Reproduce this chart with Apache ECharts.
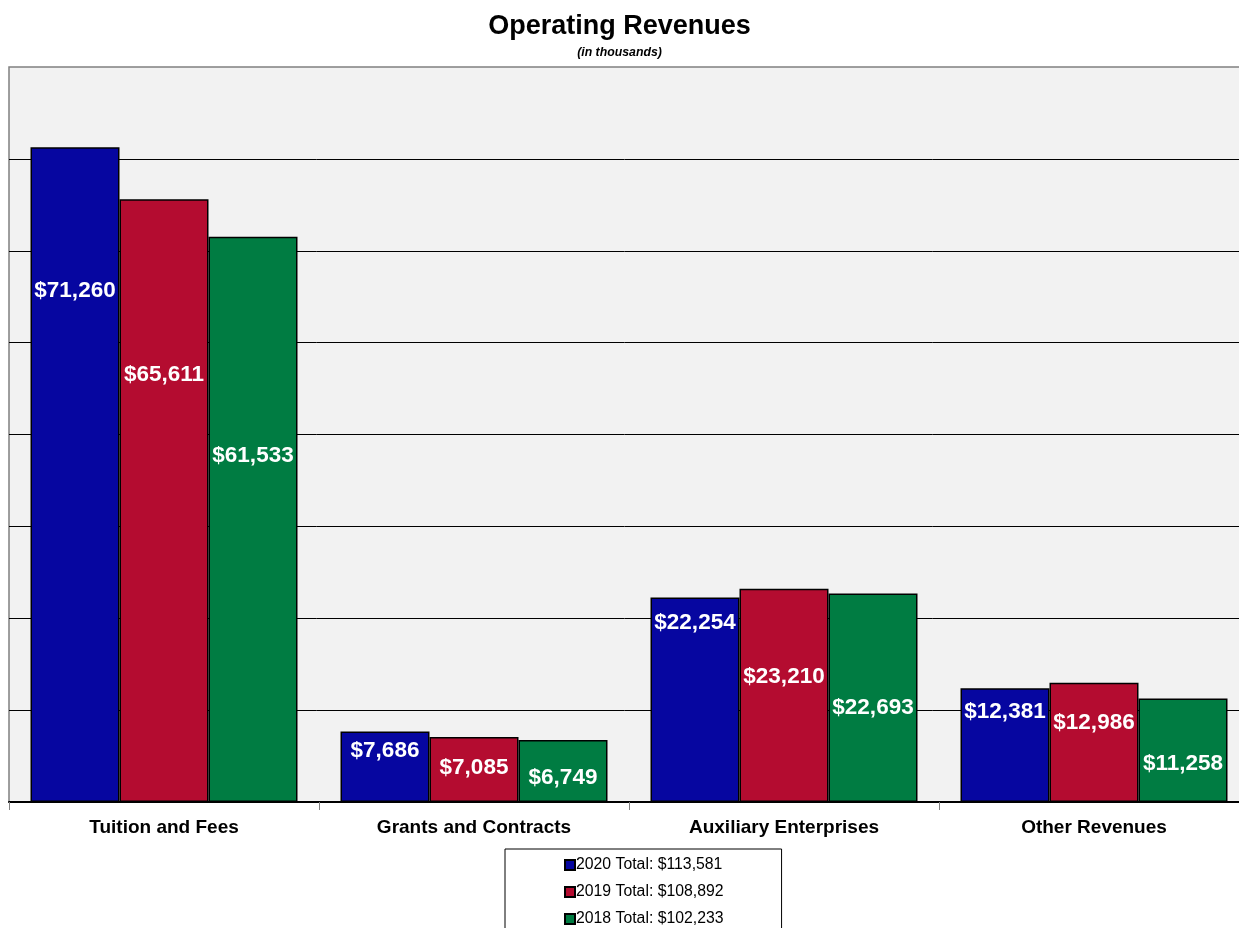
<!DOCTYPE html>
<html>
<head>
<meta charset="utf-8">
<style>
  html, body { margin: 0; padding: 0; background: #ffffff; }
  #chart { width: 1239px; height: 928px; }
</style>
<script src="https://cdn.jsdelivr.net/npm/echarts@6/dist/echarts.min.js"></script>
</head>
<body>
<div id="chart"></div>
<script>
// ---- data ----
const categories = ['Tuition and Fees', 'Grants and Contracts', 'Auxiliary Enterprises', 'Other Revenues'];
const years = ['2020', '2019', '2018'];
const values2020 = [71260, 7686, 22254, 12381];
const values2019 = [65611, 7085, 23210, 12986];
const values2018 = [61533, 6749, 22693, 11258];
const yTicks = { min: 0, max: 80000, interval: 10000 };

// ---- styling (label placement below bar top, px) ----
const labelDrop = [
  [143, 19, 25, 24],
  [176, 31, 88, 40],
  [219, 38, 114, 65]
];
const colors = ['#0606A0', '#B40C30', '#007C42'];
const FONT = '"Liberation Sans", Arial, sans-serif';

const seriesValues = [values2020, values2019, values2018];
const fmt = v => '$' + v.toLocaleString('en-US');

const series = seriesValues.map((vals, si) => {
  const total = vals.reduce((a, b) => a + b, 0);
  return {
    name: years[si] + ' Total: ' + fmt(total),
    type: 'bar',
    barWidth: 89,
    barGap: '0%',
    itemStyle: { color: colors[si], borderColor: '#000', borderWidth: 1.5 },
    label: {
      show: true,
      color: '#ffffff',
      fontFamily: FONT,
      fontWeight: 'bold',
      fontSize: 22.5,
      align: 'center',
      verticalAlign: 'middle',
      formatter: p => fmt(p.value)
    },
    data: vals.map((v, i) => ({
      value: v,
      label: { position: ['50%', labelDrop[si][i]] }
    }))
  };
});

const chart = echarts.init(document.getElementById('chart'), null, { renderer: 'canvas' });
chart.setOption({
  backgroundColor: '#ffffff',
  animation: false,
  title: {
    text: 'Operating Revenues',
    subtext: '(in thousands)',
    left: 'center',
    top: 13,
    padding: 0,
    itemGap: 7,
    textStyle: { fontFamily: FONT, fontWeight: 'bold', fontSize: 27, color: '#000' },
    subtextStyle: { fontFamily: FONT, fontWeight: 'bold', fontStyle: 'italic', fontSize: 12.3, color: '#000' }
  },
  legend: {
    orient: 'vertical',
    left: 505,
    top: 849,
    height: 120,
    padding: [8, 58, 20, 59],
    itemGap: 11,
    itemWidth: 10,
    itemHeight: 10,
    icon: 'rect',
    borderColor: '#000',
    borderWidth: 1,
    backgroundColor: '#ffffff',
    textStyle: { fontFamily: FONT, fontSize: 15.8, color: '#000', padding: [0, 0, 0, -4] }
  },
  grid: {
    left: 9,
    width: 1240,
    top: 67,
    bottom: 126,
    outerBoundsMode: 'none',
    show: true,
    backgroundColor: '#F2F2F2',
    borderColor: '#808080',
    borderWidth: 1.5
  },
  xAxis: {
    type: 'category',
    data: categories,
    axisLine: { show: true, lineStyle: { color: '#000', width: 2 } },
    axisTick: { show: true, length: 8, interval: 0, lineStyle: { color: '#808080', width: 1 } },
    axisLabel: { interval: 0, margin: 16, fontFamily: FONT, fontWeight: 'bold', fontSize: 19, color: '#000' }
  },
  yAxis: {
    type: 'value',
    min: yTicks.min,
    max: yTicks.max,
    interval: yTicks.interval,
    axisLabel: { show: false },
    axisLine: { show: false },
    axisTick: { show: false },
    splitLine: { show: true, showMaxLine: false, lineStyle: { color: '#000', width: 1 } }
  },
  series: series
});
</script>
</body>
</html>
